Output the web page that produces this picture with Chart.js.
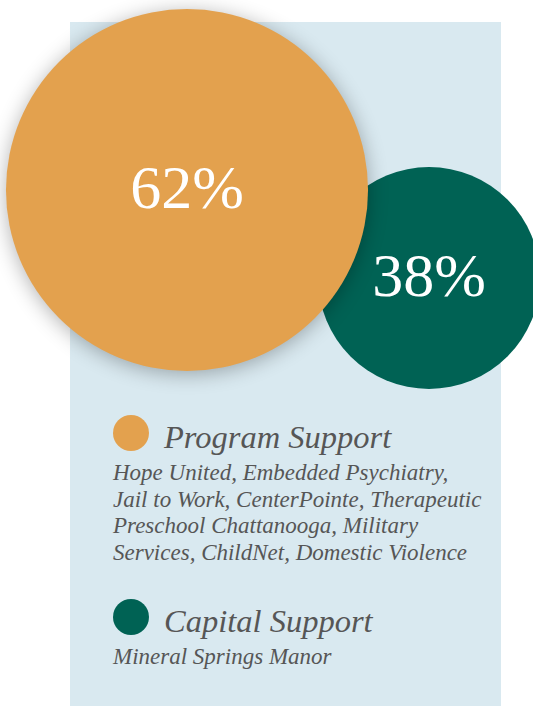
<!DOCTYPE html>
<html>
<head>
<meta charset="utf-8">
<script src="https://cdn.jsdelivr.net/npm/chart.js@4.4.1/dist/chart.umd.min.js"></script>
<style>
    body { margin: 0; width: 533px; height: 706px; overflow: hidden; background: #fff; position: relative; }
    #panel { position: absolute; left: 70px; top: 22px; width: 431px; height: 684px; background: #d9e9f0; }
    #myChart { position: absolute; left: 0; top: 0; }
    #legend { position: absolute; left: 113px; top: 413px; width: 400px; font-family: "Liberation Serif", serif; font-style: italic; color: #565656; }
    .item { margin-bottom: 31px; }
    .head { display: flex; align-items: center; height: 40px; }
    .dot { width: 36px; height: 36px; border-radius: 50%; margin-right: 15px; flex: none; }
    .title { font-size: 32.5px; position: relative; top: 4px; }
    .desc { font-size: 23px; line-height: 26.5px; margin-top: 7px; white-space: nowrap; }
</style>
</head>
<body>
<div id="panel"></div>
<canvas id="myChart" width="533" height="400"></canvas>
<div id="legend"></div>
<script>
const categories = ['Program Support', 'Capital Support'];
const shares = [62, 38];
const colors = ['#e3a14e', '#006254'];
const descriptions = [
    ['Hope United, Embedded Psychiatry,', 'Jail to Work, CenterPointe, Therapeutic', 'Preschool Chattanooga, Military', 'Services, ChildNet, Domestic Violence'],
    ['Mineral Springs Manor']
];

document.addEventListener("DOMContentLoaded", function () {
    const ctx = document.getElementById('myChart').getContext('2d');

    // where each bubble sits (scale units = pixels) and how big per percent
    const centers = [[187, 190], [429, 278]];
    const radiusPerPercent = 2.92;

    // shadow only under the big bubble
    const shadowPlugin = {
        id: 'shadow',
        beforeDatasetDraw(chart, args) {
            if (args.index !== 0) return;
            chart.ctx.save();
            chart.ctx.shadowColor = 'rgba(0, 0, 0, 0.3)';
            chart.ctx.shadowBlur = 20;
            chart.ctx.shadowOffsetY = 3;
        },
        afterDatasetDraw(chart, args) {
            if (args.index === 0) chart.ctx.restore();
        }
    };

    const valueLabels = {
        id: 'valueLabels',
        afterDatasetsDraw(chart) {
            const c = chart.ctx;
            c.save();
            c.fillStyle = '#fff';
            c.textAlign = 'center';
            c.textBaseline = 'middle';
            chart.data.datasets.forEach((ds, i) => {
                const el = chart.getDatasetMeta(i).data[0];
                c.font = '62px "Liberation Serif", serif';
                c.fillText(shares[i] + '%', el.x, el.y + 2);
            });
            c.restore();
        }
    };

    new Chart(ctx, {
        type: 'bubble',
        data: {
            datasets: categories.map((name, i) => ({
                label: name,
                data: [{ x: centers[i][0], y: centers[i][1], r: shares[i] * radiusPerPercent }],
                backgroundColor: colors[i],
                borderWidth: 0,
                clip: false
            }))
        },
        options: {
            responsive: false,
            animation: false,
            events: [],
            layout: { padding: 0, autoPadding: false },
            plugins: { legend: { display: false }, tooltip: { enabled: false } },
            scales: {
                x: { display: false, min: 0, max: 533 },
                y: { display: false, min: 0, max: 400, reverse: true }
            }
        },
        plugins: [shadowPlugin, valueLabels]
    });

    // legend built from the same arrays
    const legend = document.getElementById('legend');
    categories.forEach((name, i) => {
        const item = document.createElement('div');
        item.className = 'item';
        item.innerHTML = '<div class="head"><span class="dot" style="background:' + colors[i] + '"></span>' +
            '<span class="title">' + name + '</span></div>' +
            '<div class="desc">' + descriptions[i].join('<br>') + '</div>';
        legend.appendChild(item);
    });
});
</script>
</body>
</html>
